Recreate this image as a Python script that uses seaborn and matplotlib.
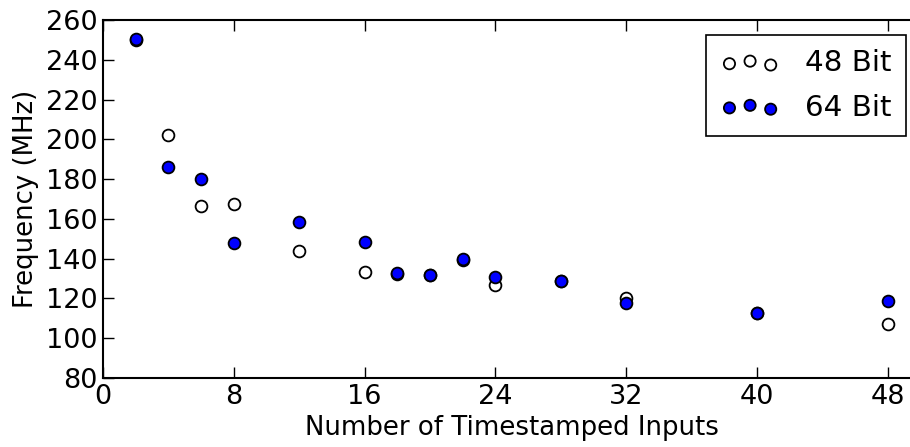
import matplotlib
matplotlib.use("Agg")
import matplotlib.pyplot as plt
import numpy as np
import pandas as pd
import seaborn as sns

inputs = [2, 4, 6, 8, 12, 16, 18, 20, 22, 24, 28, 32, 40, 48]
freq_48 = [250, 202, 166.5, 167.5, 144, 133.5, 132.5, 132, 139.5, 127, 128.8, 120.3, 112.5, 107.3]
freq_64 = [250.5, 186.3, 179.9, 147.8, 158.2, 148.2, 132.8, 132, 139.8, 130.6, 128.9, 117.8, 112.5, 118.5]

x_ticks = [0, 8, 16, 24, 32, 40, 48]
y_ticks = [80, 100, 120, 140, 160, 180, 200, 220, 240, 260]

sns.set_style("ticks")
plt.rcParams["font.family"] = ["DejaVu Sans"]
plt.rcParams.update({
    "xtick.direction": "in",
    "ytick.direction": "in",
    "xtick.top": True,
    "ytick.right": True,
    "xtick.major.size": 8,
    "ytick.major.size": 8,
    "xtick.major.width": 1,
    "ytick.major.width": 1,
    "xtick.color": "black",
    "ytick.color": "black",
    "text.color": "black",
    "axes.labelcolor": "black",
    "axes.edgecolor": "black",
    "axes.linewidth": 1.5,
})

df48 = pd.DataFrame({"inputs": inputs, "freq": freq_48})
df64 = pd.DataFrame({"inputs": inputs, "freq": freq_64})

fig = plt.figure(figsize=(9.10, 4.47), dpi=100)
ax = fig.add_axes([103 / 910, 69 / 447, 817.5 / 910, 358 / 447])

sns.scatterplot(data=df48, x="inputs", y="freq", ax=ax, color="white",
                edgecolor="black", linewidth=1.3, s=72, label="48 Bit", zorder=3)
sns.scatterplot(data=df64, x="inputs", y="freq", ax=ax, color="blue",
                edgecolor="black", linewidth=1.3, s=72, label="64 Bit", zorder=4)

ax.set_xlim(0, 50)
ax.set_ylim(80, 260)
ax.set_xticks(x_ticks)
ax.set_yticks(y_ticks)
ax.tick_params(labelsize=19.5, pad=4)
ax.set_xlabel("Number of Timestamped Inputs", fontsize=18.7, labelpad=4)
ax.set_ylabel("Frequency (MHz)", fontsize=18.7, labelpad=5)

leg = ax.legend(loc="upper right", fontsize=21.2, scatterpoints=3,
                scatteryoffsets=[0.375, 0.5, 0.3125], markerscale=0.95,
                fancybox=False, framealpha=1, edgecolor="black",
                handlelength=2.0, handletextpad=0.85, borderpad=0.5,
                labelspacing=0.55)
leg.get_frame().set_linewidth(1.2)

fig.savefig("out.png", dpi=100)
